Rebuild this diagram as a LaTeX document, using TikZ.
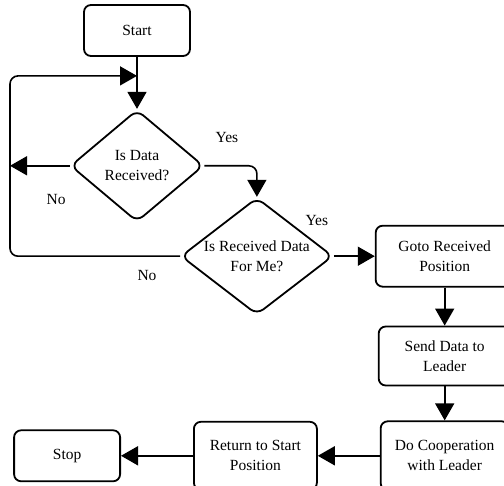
\documentclass[tikz,border=0pt]{standalone}
\usepackage{fontspec}
\setmainfont{Liberation Serif}
\usetikzlibrary{positioning,arrows.meta,shapes.geometric}

\begin{document}
\begin{tikzpicture}[
    node distance=40pt,
    font=\fontsize{15.5}{20}\selectfont,
    block/.style={rectangle,draw,line width=1.8pt,rounded corners=7pt,align=center,minimum width=106pt,minimum height=51pt,inner sep=2pt},
    decision/.style={diamond,draw,line width=1.8pt,rounded corners=8pt,align=center,aspect=1.3,inner sep=0pt},
    arrow/.style={-{Triangle[length=17pt,width=19pt]},line width=1.6pt},
    lbl/.style={inner sep=0pt}
]
\useasboundingbox (0,0) rectangle (504pt,-486pt);

% メインノード
\node[block] (start) at (137pt,-30.5pt) {Start};
\node[decision,below=52pt of start,minimum width=133pt,minimum height=112pt] (dec1) {Is Data\\Received?};
\node[decision,below=31pt of dec1.east,xshift=52.5pt,minimum width=152pt,minimum height=117pt] (dec2) {Is Received Data\\For Me?};
\node[block,right=41pt of dec2,minimum width=138pt,minimum height=61pt] (goto) {Goto Received\\Position};
\node[block,below=38pt of goto,minimum width=132pt,minimum height=59pt] (send) {Send Data to\\Leader};
\node[block,below=34pt of send,minimum width=128pt,minimum height=69pt] (coop) {Do Cooperation\\with Leader};
\node[block,left=62pt of coop,minimum width=123pt,minimum height=68pt] (ret) {Return to Start\\Position};
\node[block,left=72pt of ret] (stop) {Stop};

% 戻りループの点
\coordinate[below=19pt of start] (join);
\coordinate (edge) at ([xshift=-127pt]join);

% 矢印の描画
\draw[arrow] (start) -- (dec1);
\draw[arrow,rounded corners=8pt] (dec1.east) -| (dec2.north);
\draw[arrow] (dec1.west) -- (dec1.west -| edge);
\draw[arrow,rounded corners=8pt] (dec2.west) -| (edge) -- (join);
\draw[arrow] (dec2) -- (goto);
\draw[arrow] (goto) -- (send);
\draw[arrow] (send) -- (coop);
\draw[arrow] (coop) -- (ret);
\draw[arrow] (ret) -- (stop);

% ラベル
\node[lbl] (yes1) at ([shift={(22.5pt,28pt)}]dec1.east) {Yes};
\node[lbl] (no1) at ([shift={(-13.5pt,-34pt)}]dec1.west) {No};
\node[lbl] (yes2) at ([shift={(-17pt,35.5pt)}]dec2.east) {Yes};
\node[lbl] (no2) at ([shift={(-33pt,-19.5pt)}]dec2.west) {No};

\end{tikzpicture}
\end{document}
